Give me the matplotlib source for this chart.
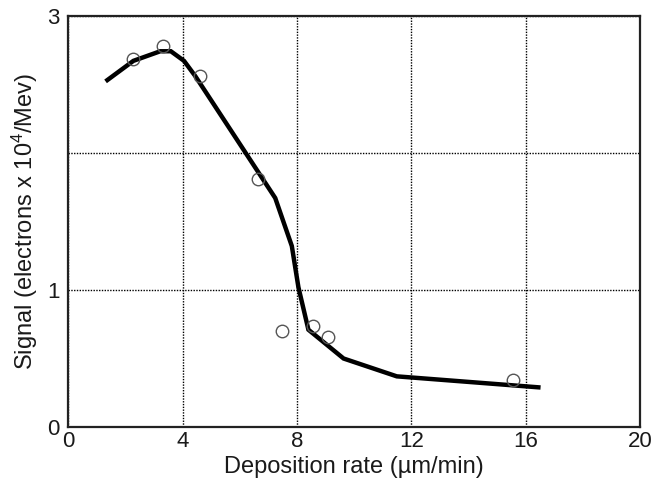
import matplotlib

matplotlib.use("Agg")
import matplotlib.pyplot as plt

plt.rcParams["font.family"] = ["Liberation Sans", "DejaVu Sans"]
plt.rcParams["mathtext.fontset"] = "custom"
plt.rcParams["mathtext.rm"] = "Liberation Sans"
plt.rcParams["mathtext.it"] = "Liberation Sans"

# fitted curve (signal vs deposition rate)
fit_rate = [1.37, 2.28, 3.22, 3.59, 4.05, 4.44, 7.24, 7.82, 8.05, 8.40, 9.63, 11.49, 16.44]
fit_signal = [2.53, 2.67, 2.74, 2.74, 2.67, 2.56, 1.67, 1.32, 1.02, 0.71, 0.50, 0.37, 0.29]

# measured points
meas_rate = [2.27, 3.31, 4.62, 6.65, 7.47, 8.55, 9.07, 15.55]
meas_signal = [2.68, 2.78, 2.56, 1.81, 0.70, 0.74, 0.66, 0.34]

x_ticks = [0, 4, 8, 12, 16, 20]
y_ticks = [0, 1, 2, 3]
y_tick_labels = ["0", "1", "", "3"]

text_col = "#1a1a1a"

fig = plt.figure(figsize=(6.62, 4.87), dpi=100)
ax = fig.add_axes([0.103, 0.123, 0.864, 0.845])

ax.plot(fit_rate, fit_signal, color="black", lw=3.2, solid_joinstyle="miter", zorder=3)
ax.plot(meas_rate, meas_signal, linestyle="none", marker="o", ms=9,
        mfc="none", mec="#555555", mew=1.0, zorder=4)

ax.set_xlim(0, 20)
ax.set_ylim(0, 3)
ax.set_xticks(x_ticks)
ax.set_yticks(y_ticks)
ax.set_yticklabels(y_tick_labels)
ax.tick_params(length=0, labelsize=16, colors=text_col)
ax.tick_params(axis="x", pad=3)
ax.tick_params(axis="y", pad=6)

ax.grid(True, color="black", linestyle=(0, (1, 1)), lw=1.0)
for s in ax.spines.values():
    s.set_linewidth(1.6)
    s.set_color("#222222")

ax.set_xlabel("Deposition rate (µm/min)", fontsize=17, color=text_col, labelpad=3)
ax.set_ylabel(r"Signal (electrons x 10$^{4}$/Mev)", fontsize=17, color=text_col, labelpad=5)

fig.savefig("out.png", dpi=100)
